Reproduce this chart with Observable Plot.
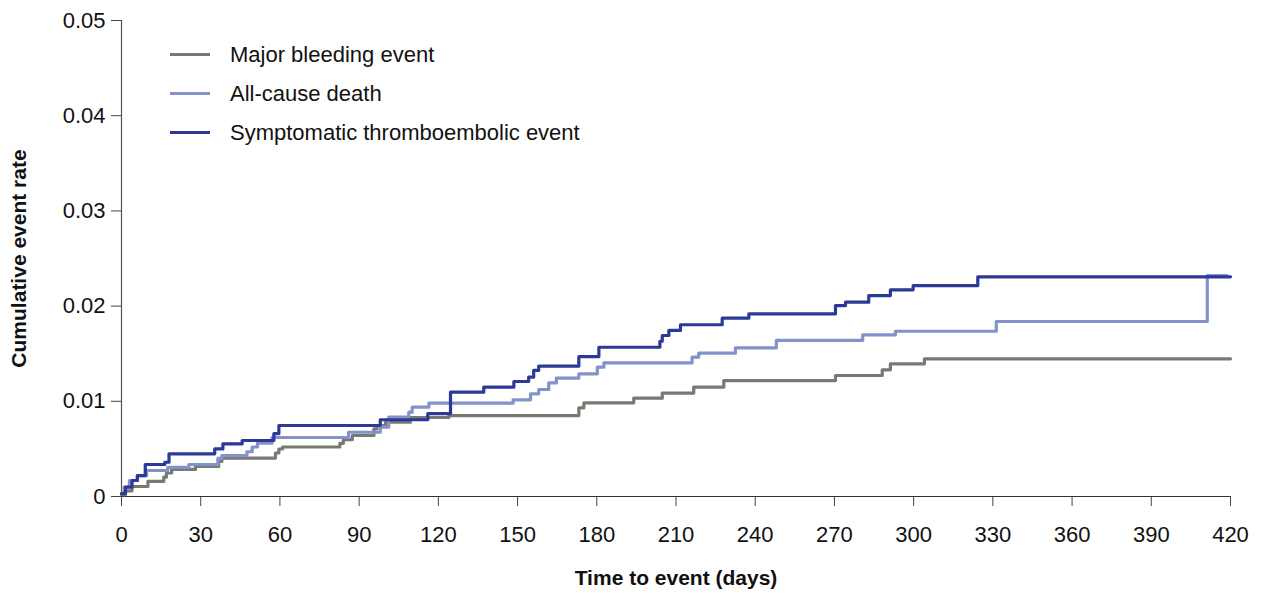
<!DOCTYPE html>
<html>
<head>
<meta charset="utf-8">
<script src="https://cdn.jsdelivr.net/npm/d3@7"></script>
<script src="https://cdn.jsdelivr.net/npm/@observablehq/plot@0.6"></script>
<style>
  html, body { margin: 0; padding: 0; background: #fff; }
  #wrap { position: relative; width: 1261px; height: 593px; font-family: "Liberation Sans", Arial, sans-serif; }
  #legend { position: absolute; left: 170px; top: 35px; font-size: 22px; color: #111; }
  .item { display: flex; align-items: center; height: 39px; }
  .sw { width: 40px; height: 3px; margin-right: 20px; }
  g[aria-label="x-axis label"] text, g[aria-label="y-axis label"] text { font-weight: bold; font-size: 21px; }
</style>
</head>
<body>
<div id="wrap"><div id="legend"></div></div>
<script>
const seriesNames = ["Major bleeding event", "All-cause death", "Symptomatic thromboembolic event"];
const seriesColors = ["#777a70", "#8392c9", "#2d3996"];

const bleedDays  = [0, 1.5, 4, 10, 16, 17, 19, 28, 36.8, 38, 58.3, 59.6, 61, 82.7, 84, 87.4, 95.6, 96.8, 100, 109.4, 124, 173.2, 175.1, 194, 204.8, 216.7, 228.1, 270.4, 288.1, 291.2, 304.1, 420];
const bleedRates = [0.0002, 0.0006, 0.00105, 0.00158, 0.00203, 0.00247, 0.00284, 0.00315, 0.00368, 0.00404, 0.00457, 0.00499, 0.0052, 0.00557, 0.00596, 0.00641, 0.00711, 0.00746, 0.0078, 0.0083, 0.0085, 0.00931, 0.00984, 0.01033, 0.01085, 0.01148, 0.01218, 0.01271, 0.01331, 0.01394, 0.01446, 0.01446];

const deathDays  = [0, 1, 3, 6, 9.5, 17.5, 25.5, 36.5, 38, 47.5, 49.5, 51.5, 57, 86, 98, 101.2, 108.8, 110.1, 116.4, 148.3, 154.9, 158, 161.8, 164.7, 173.2, 180.2, 182.7, 216.1, 218.6, 232.5, 248, 280.7, 293.1, 331.3, 411.2, 418.7];
const deathRates = [0.0003, 0.001, 0.00168, 0.0022, 0.00273, 0.00305, 0.00336, 0.004, 0.0043, 0.0047, 0.0052, 0.0056, 0.0062, 0.00675, 0.00728, 0.00833, 0.00886, 0.00938, 0.0098, 0.01015, 0.01078, 0.01124, 0.01194, 0.01243, 0.01289, 0.01359, 0.01404, 0.01463, 0.01505, 0.01562, 0.01639, 0.01698, 0.01736, 0.01838, 0.02321, 0.02321];

const thromDays  = [0, 1.5, 4, 6, 9, 16.4, 18, 35.3, 38.4, 45.7, 57.7, 59.6, 98, 116, 124.6, 137.2, 148.6, 154.2, 156.1, 158, 173.2, 180.8, 203.9, 204.8, 207.3, 211.7, 227.5, 237.6, 270.4, 274.2, 283, 291.2, 299.8, 324.3, 420];
const thromRates = [0.0003, 0.00098, 0.00168, 0.0022, 0.00336, 0.0036, 0.00448, 0.005, 0.00553, 0.00588, 0.0066, 0.00746, 0.00806, 0.0087, 0.01096, 0.01148, 0.01208, 0.01253, 0.01324, 0.01369, 0.0147, 0.01568, 0.01631, 0.01691, 0.01744, 0.01804, 0.01873, 0.01919, 0.02006, 0.02041, 0.02111, 0.02171, 0.02216, 0.02308, 0.02308];

const xTicks = [0, 30, 60, 90, 120, 150, 180, 210, 240, 270, 300, 330, 360, 390, 420];
const yTicks = [0, 0.01, 0.02, 0.03, 0.04, 0.05];

const toRows = (name, days, rates) => days.map((d, i) => ({series: name, day: d, rate: rates[i]}));
const data = [
  ...toRows(seriesNames[0], bleedDays, bleedRates),
  ...toRows(seriesNames[1], deathDays, deathRates),
  ...toRows(seriesNames[2], thromDays, thromRates)
];

const chart = Plot.plot({
  width: 1261,
  height: 593,
  marginLeft: 121,
  marginRight: 31,
  marginTop: 20,
  marginBottom: 97,
  style: { fontFamily: "'Liberation Sans', Arial, sans-serif", fontSize: "22px", color: "#111", background: "#fff" },
  x: { domain: [0, 420] },
  y: { domain: [0, 0.05] },
  color: { domain: seriesNames, range: seriesColors },
  marks: [
    Plot.axisX({ ticks: xTicks, tickSize: 10, tickPadding: 20, fontSize: 22, stroke: "#444", label: "Time to event (days)", labelArrow: "none", labelAnchor: "center", labelOffset: 88 }),
    Plot.axisY({ ticks: yTicks, tickSize: 10, tickPadding: 6, fontSize: 22, stroke: "#444", tickFormat: d => d === 0 ? "0" : d.toFixed(2), label: "Cumulative event rate", labelArrow: "none", labelAnchor: "center", labelOffset: 110 }),
    Plot.ruleY([0], { stroke: "#333", strokeWidth: 1.2 }),
    Plot.ruleX([0], { stroke: "#555", strokeWidth: 1.2 }),
    Plot.line(data, { x: "day", y: "rate", z: "series", stroke: "series", strokeWidth: 3.2, curve: "step-after" })
  ]
});
document.getElementById("wrap").prepend(chart);

const legend = document.getElementById("legend");
seriesNames.forEach((n, i) => {
  const item = document.createElement("div");
  item.className = "item";
  item.innerHTML = `<div class="sw" style="background:${seriesColors[i]}"></div><span>${n}</span>`;
  legend.appendChild(item);
});
</script>
</body>
</html>
